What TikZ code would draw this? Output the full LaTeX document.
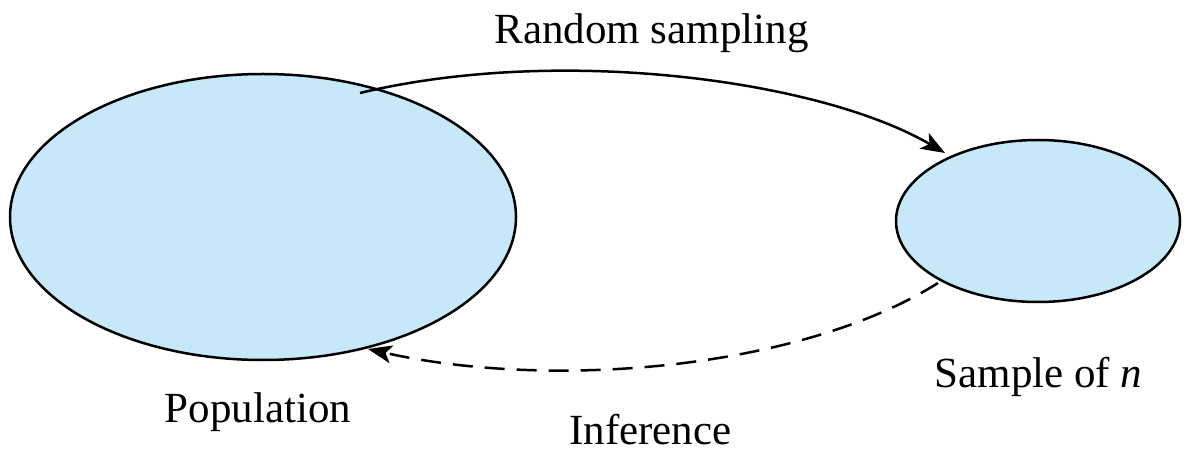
\documentclass[tikz,border=0pt]{standalone}
\usepackage{fontspec}
\setmainfont{Liberation Serif}
\usetikzlibrary{arrows.meta}
\definecolor{setblue}{HTML}{C6E8F8}
\tikzset{
  setshape/.style={draw=black, line width=2.5pt, fill=setblue},
  flow/.style={line width=2.5pt, -{Stealth[length=24pt,width=18pt,inset=6pt]}},
  infer/.style={flow, dash pattern=on 20pt off 12pt},
  lbl/.style={font=\fontsize{43}{50}\selectfont, inner sep=0pt, anchor=base}
}
\begin{document}
\begin{tikzpicture}[x=1pt,y=-1pt]
  \useasboundingbox (0,0) rectangle (1189,454);
  % the two sets
  \filldraw[setshape] (263,217) ellipse [x radius=253, y radius=143];
  \filldraw[setshape] (1038,221) ellipse [x radius=142, y radius=81];
  \coordinate (popout) at (360,93);
  \coordinate (samin) at (945,153);
  \coordinate (samout) at (938,283);
  \coordinate (popin) at (368,349);
  % connectors
  \draw[flow] (popout) .. controls (560,45) and (820,80) .. (samin);
  \draw[infer] (samout) .. controls (800,370) and (550,390) .. (popin);
  % labels
  \node[lbl] (rs) at (651.5,44) {Random sampling};
  \node[lbl] (pop) at (258,422) {Population};
  \node[lbl] (sam) at (1038.5,388) {Sample of \textit{n}};
  \node[lbl] (inf) at (650.5,444) {Inference};
\end{tikzpicture}
\end{document}
